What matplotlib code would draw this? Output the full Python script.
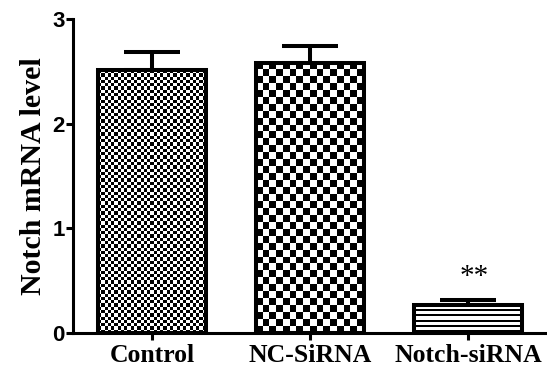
import numpy as np
import matplotlib
matplotlib.use("Agg")
import matplotlib.pyplot as plt

categories = ["Control", "NC-SiRNA", "Notch-siRNA"]
means = [2.51, 2.58, 0.27]
errors = [0.17, 0.16, 0.05]
yticks = [0, 1, 2, 3]
annot = "**"

fig = plt.figure(figsize=(5.47, 3.74), dpi=100)
ax = fig.add_axes([0.1335, 0.1096, 0.8665, 0.8396])
xpos = np.arange(len(categories))

ax.errorbar(xpos, means, yerr=[np.zeros(len(errors)), errors], fmt='none',
            ecolor='black', elinewidth=2.9, capsize=20, capthick=2.9, zorder=1)
bars = ax.bar(xpos, means, width=0.68, facecolor='none', edgecolor='black',
              linewidth=2.9, zorder=3)
ax.set_xlim(-0.5, 2.5)
ax.set_ylim(0, 3)
fig.canvas.draw()

def checker(wpx, hpx, cell):
    cols = int(np.ceil(wpx / cell)); rows = int(np.ceil(hpx / cell))
    r, c = np.indices((rows, cols))
    return ((r + c) % 2).astype(float)

def stripes(hpx, period=5, dark=2):
    rows = int(np.round(hpx))
    r = np.arange(rows)
    col = np.where((r % period) < dark, 0.0, 1.0)
    return np.tile(col[:, None], (1, 10))

kinds = [("checker", 3.3), ("checker", 7.0), ("stripes", 5)]
for bar, (kind, size) in zip(bars, kinds):
    bb = bar.get_window_extent()
    x0, y0 = bar.get_x(), bar.get_y()
    x1, y1 = x0 + bar.get_width(), y0 + bar.get_height()
    if kind == "checker":
        arr = checker(bb.width, bb.height, size)
    else:
        arr = stripes(bb.height, period=int(size), dark=2)
    im = ax.imshow(arr, extent=(x0, x1, y0, y1), cmap='gray', vmin=0, vmax=1,
                   interpolation='nearest', aspect='auto', zorder=2, origin='upper')
    im.set_clip_path(bar)

ax.set_xlim(-0.5, 2.5)
ax.set_ylim(0, 3)
ax.set_aspect('auto')

for s in ['top', 'right']:
    ax.spines[s].set_visible(False)
for s in ['left', 'bottom']:
    ax.spines[s].set_linewidth(2.2)

ax.set_yticks(yticks)
ax.set_yticklabels([str(t) for t in yticks], fontfamily='Liberation Sans',
                   fontweight='bold', fontsize=16)
ax.set_xticks(xpos)
ax.set_xticklabels(categories, fontfamily='Liberation Serif', fontweight='bold',
                   fontsize=18.5)
ax.tick_params(axis='y', length=5, width=2.2, pad=1)
ax.tick_params(axis='x', length=5, width=2.2, pad=3)
ax.set_ylabel("Notch mRNA level", fontfamily='Liberation Serif', fontweight='bold',
              fontsize=21.5, labelpad=4)

ax.text(xpos[2] + 0.04, means[2] + errors[2] + 0.09, annot, ha='center', va='bottom',
        fontfamily='Liberation Serif', fontsize=21)

fig.savefig("out.png", dpi=100)
